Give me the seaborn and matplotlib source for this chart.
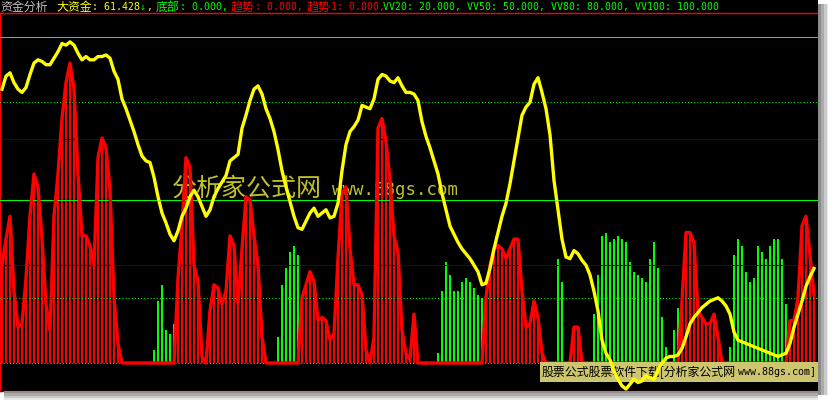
import numpy as np
import pandas as pd
import matplotlib
matplotlib.use("Agg")
import matplotlib.pyplot as plt
import seaborn as sns
from matplotlib.patches import Rectangle

# trend sticks (趋势), one value per bar
trend_vals = [
    30, 38, 45, 22, 11, 12, 26, 45, 58, 54,
    38, 18, 10, 45, 58, 75, 86, 92, 84, 58,
    39, 39, 36, 30, 63, 69, 66, 53, 20, 6,
    0, 0, 0, 0, 0, 0, 0, 0, 4, 19,
    24, 10, 9, 12, 26, 42, 63, 60, 30, 25,
    2, 0, 16, 24, 23, 18, 22, 39, 36, 18,
    35, 51, 50, 39, 30, 8, 0, 0, 0, 8,
    24, 29, 34, 36, 33, 20, 24, 28, 25, 13,
    14, 13, 7, 9, 32, 52, 54, 35, 24, 24,
    21, 4, 0, 8, 72, 75, 68, 56, 39, 34,
    10, 3, 1, 15, 0, 0, 0, 0, 0, 3,
    22, 31, 27, 22, 22, 25, 26, 25, 23, 21,
    20, 20, 30, 35, 36, 35, 32, 35, 38, 38,
    22, 11, 12, 19, 14, 3, 0, 0, 0, 32,
    25, 0, 0, 11, 11, 0, 0, 0, 15, 27,
    39, 40, 37, 38, 39, 38, 37, 31, 28, 27,
    26, 25, 32, 37, 29, 14, 5, 0, 10, 17,
    19, 40, 40, 37, 16, 14, 12, 12, 15, 8,
    0, 0, 5, 33, 38, 36, 28, 25, 26, 36,
    34, 32, 36, 38, 38, 32, 18, 13, 13, 20,
    42, 45, 33, 21,
]
# colour of each run of sticks: R = red, G = green
color_runs = [("R", 38), ("G", 6), ("R", 25), ("G", 6), ("R", 34), ("G", 12),
              ("R", 18), ("G", 3), ("R", 6), ("G", 22), ("R", 12), ("G", 15), ("R", 7)]

# 大资金 line
big_fund = [
    84, 88, 89, 86, 84, 83, 84.5, 88.5, 92, 93,
    92.5, 91.5, 91.5, 93.5, 95.5, 98, 97.5, 98.5, 97.5, 95,
    93, 94, 93, 93, 94, 94, 94.5, 93.5, 89.5, 87,
    81, 78, 74.5, 71, 67, 63.5, 62, 61.5, 57, 51,
    46, 43, 39.5, 37.5, 40.5, 45, 47.5, 51, 53, 51,
    48, 45, 47, 51, 53.5, 55.5, 57.5, 62, 63, 64,
    72, 76, 80.5, 84, 85, 82.5, 78, 75, 71, 65.5,
    59, 54, 49.5, 45, 41.5, 41, 43.5, 46, 47.5, 45,
    46, 47, 44.5, 45, 49, 59, 67, 71, 72.5, 74.5,
    79, 78.5, 78, 81, 87, 88.5, 88, 86.5, 86, 87.5,
    85, 83, 83, 82.5, 80.5, 74, 69.5, 66, 62, 58,
    52, 47, 42, 39.5, 37, 35, 33.5, 32, 30, 28,
    24, 24.5, 29, 35, 40, 45, 49, 55, 62, 69,
    76, 78.5, 80, 85.5, 87.5, 83, 78, 70, 56, 47,
    38, 32.5, 32, 34.5, 33.5, 31.5, 30, 27, 22, 16,
    7, 3, 1, -2.5, -5, -7, -8, -6.5, -5, -6,
    -5.5, -4, -4.5, -5, -2, 0, 1.5, 2, 2, 2.5,
    4.5, 8, 12, 14, 15.5, 17, 18, 19, 19.5, 20,
    19, 17.5, 15, 9.5, 7, 6.5, 6, 5.5, 5, 4.5,
    4, 3.5, 3, 2.5, 2, 2.5, 3, 6, 11, 15,
    19, 23.5, 26.5, 29,
]

# reference levels VV100, VV80, VV50, VV20, 0 and the two dark grid lines
green_levels = [100, 80, 50, 20, 0]
green_dotted = [False, True, False, True, True]
grid_levels = [68.7, 30]

# header pieces: x in pixels, text, colour, cjk font or not
title_parts = [
    (0, "资金分析", "#c0c0c0", True),
    (56, "大资金", "#ffff00", True),
    (92, ": 61.428", "#ffff00", False),
    (140, "↓", "#00ff00", False),
    (146, ",", "#ffff00", False),
    (156, "底部", "#00ff00", True),
    (180, ": 0.000,", "#00ff00", False),
    (231, "趋势", "#ff0000", True),
    (255, ": 0.000,", "#ff0000", False),
    (307, "趋势", "#ff0000", True),
    (331, "1: 0.000,", "#ff0000", False),
    (383, "VV20: 20.000, VV50: 50.000, VV80: 80.000, VV100: 100.000", "#00ff00", False),
]

W, H = 829, 400
flags = [c for c, n in color_runs for _ in range(n)]
df = pd.DataFrame({"i": np.arange(len(trend_vals)), "v": trend_vals, "c": flags})
df["red"] = np.where(df["c"] == "R", df["v"], 0)
df["green"] = np.where(df["c"] == "G", df["v"], 0)
df["fund"] = big_fund

fig = plt.figure(figsize=(W / 100, H / 100), dpi=100, facecolor="white")
ax = fig.add_axes([0, (H - 391) / H, 818 / W, (391 - 13) / H])
ax.set_facecolor("black")

# title strip
fig.add_artist(Rectangle((0, (H - 13) / H), 818 / W, 13 / H, transform=fig.transFigure,
                         facecolor="black", edgecolor="none", zorder=0))
for x, txt, col, cjk in title_parts:
    if cjk:
        fig.text(x / W, 1 - 7 / H, txt, color=col, fontsize=8.6,
                 family=["Noto Sans CJK SC"], va="center", ha="left")
    else:
        fig.text(x / W, 1 - 7 / H, txt, color=col, fontsize=7.1,
                 family=["DejaVu Sans Mono"], va="center", ha="left")

# shadow on the right and bottom
for k, g in enumerate(["#8c8c8c", "#ababab", "#cbcbcb", "#e8e8e8"]):
    fig.add_artist(Rectangle(((818 + 3 * k) / W, (H - 395) / H), 3 / W, 391 / H,
                             transform=fig.transFigure, facecolor=g, edgecolor="none"))
    fig.add_artist(Rectangle((4 / W, (H - 391 - 2.3 * (k + 1)) / H), 814 / W, 2.3 / H,
                             transform=fig.transFigure, facecolor=g, edgecolor="none"))

# watermark
ax.text(172 / 818, (391 - 189) / 378, "分析家公式网", transform=ax.transAxes,
        fontsize=18, family=["Noto Sans CJK SC"], color="#c0c028", va="center", zorder=1)
ax.text(332 / 818, (391 - 190) / 378, "www.88gs.com", transform=ax.transAxes,
        fontsize=12.5, family=["DejaVu Sans Mono"], color="#c0c028", va="center", zorder=1)

sns.barplot(data=df, x="i", y="red", color="#ff0000", saturation=1, native_scale=True,
            width=0.55, errorbar=None, linewidth=0, ax=ax, zorder=2)
sns.barplot(data=df, x="i", y="green", color="#00ff00", saturation=1, native_scale=True,
            width=0.55, errorbar=None, linewidth=0, ax=ax, zorder=2)

for lv, dotted in zip(green_levels, green_dotted):
    ax.axhline(lv, color="#00ff00", lw=0.75, ls=(0, (1, 2)) if dotted else "-", zorder=3)
for lv in grid_levels:
    ax.axhline(lv, color="#4a0000", lw=0.75, zorder=3)

sns.lineplot(data=df, x="i", y="red", color="#ff0000", linewidth=2.4, ax=ax, zorder=4)

# download banner
ax.add_patch(Rectangle((540 / W, (H - 382) / H), 278 / W, 20 / H, transform=fig.transFigure,
                       facecolor="#cdc66e", edgecolor="none", zorder=5, clip_on=False))
ax.text(542 / 818, (391 - 372) / 378, "股票公式股票软件下载[分析家公式网", transform=ax.transAxes,
        fontsize=8.6, family=["Noto Sans CJK SC"], color="black", va="center", zorder=5.5)
ax.text(738 / 818, (391 - 372) / 378, "www.88gs.com]", transform=ax.transAxes,
        fontsize=7.2, family=["DejaVu Sans Mono"], color="black", va="center", zorder=5.5)

sns.lineplot(data=df, x="i", y="fund", color="#ffff00", linewidth=2.4, ax=ax, zorder=6)

ax.set_xlim(-0.5, 204)
ax.set_ylim((363 - 391) / 3.26, (363 - 13) / 3.26)
ax.set_xticks([])
ax.set_yticks([])
ax.set_xlabel("")
ax.set_ylabel("")
ax.spines["right"].set_visible(False)
ax.spines["top"].set_color("#ff0000")
ax.spines["left"].set_color("#ff0000")
ax.spines["bottom"].set_color("#800000")
for s in ax.spines.values():
    s.set_linewidth(1)

fig.savefig("out.png", dpi=100, facecolor="white")
